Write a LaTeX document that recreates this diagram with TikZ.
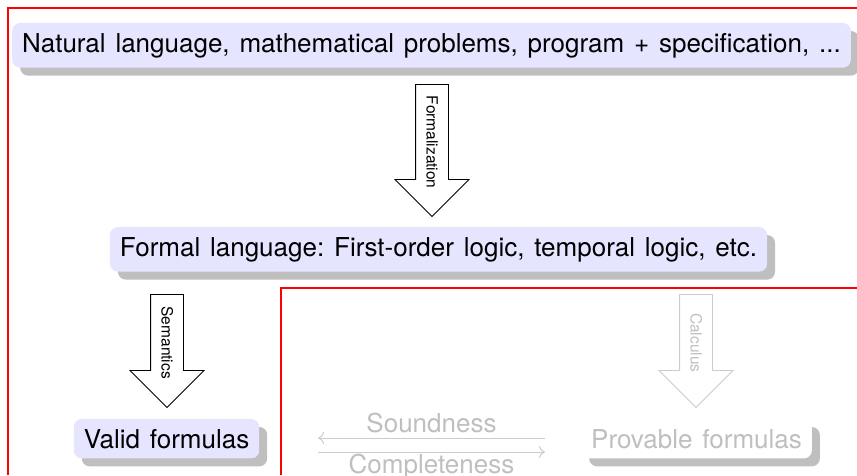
\documentclass[tikz,border=0pt]{standalone}
\usepackage{fontspec}
\setmainfont{TeX Gyre Heros}[WordSpace=1.36]
\usepackage{tikz}
\usetikzlibrary{shapes.arrows,shadows,arrows.meta}
\frenchspacing

\begin{document}
\begin{tikzpicture}[x=1pt,y=-1pt,
    box/.style={fill=blue!10,rounded corners=8pt,inner sep=10pt,anchor=base,
      font=\fontsize{26}{30}\selectfont,
      drop shadow={shadow xshift=8pt,shadow yshift=-8pt,fill=black!25,opacity=1}},
    fadedbox/.style={box,fill=white,text=black!25},
    bigarrow/.style={draw,single arrow,rotate=-90,anchor=tip,line width=0.8pt,
      single arrow head extend=20.5pt,inner xsep=10pt,inner ysep=10.5pt,
      text height=11pt,text depth=0pt,font=\fontsize{15.5}{18}\selectfont},
    fadedarrow/.style={bigarrow,draw=black!20,text=black!25},
    fadedline/.style={draw=black!20,line width=1pt,-{To[length=6pt,width=12pt]}},
    fadedlabel/.style={text=black!25,font=\fontsize{26}{30}\selectfont},
    frame/.style={fill=red}]
    \useasboundingbox (0,0) rectangle (857,475);

    \fill[frame] (7,7) rectangle (857,8.5);
    \fill[frame] (7,7) rectangle (8.5,475);
    \fill[frame] (280,287) rectangle (857,288.5);
    \fill[frame] (280,287) rectangle (281.5,475);

    \node[box] (natural) at (431.5,52) {Natural language, mathematical problems, program + specification, ...};
    \node[box] (formal) at (438.5,256) {Formal language: First-order logic, temporal logic, etc.};
    \node[box] (valid) at (166.5,448) {Valid formulas};
    \node[fadedbox] (provable) at (696.5,448) {Provable formulas};

    \node[bigarrow,minimum height=132pt] (formalization) at (432,217) {Formalization};
    \node[bigarrow,minimum height=113pt] (semantics) at (167,408) {Semantics};
    \node[fadedarrow,minimum height=113pt] (calculus) at (696,408) {Calculus};

    \coordinate (soundL) at (318,438);
    \coordinate (soundR) at (545,438);
    \coordinate (complL) at (318,452);
    \coordinate (complR) at (545,452);
    \draw[fadedline] (soundR) -- node[fadedlabel,above,inner sep=5pt] (soundness) {Soundness} (soundL);
    \draw[fadedline] (complL) -- node[fadedlabel,below,inner sep=2pt] (completeness) {Completeness} (complR);
\end{tikzpicture}
\end{document}
